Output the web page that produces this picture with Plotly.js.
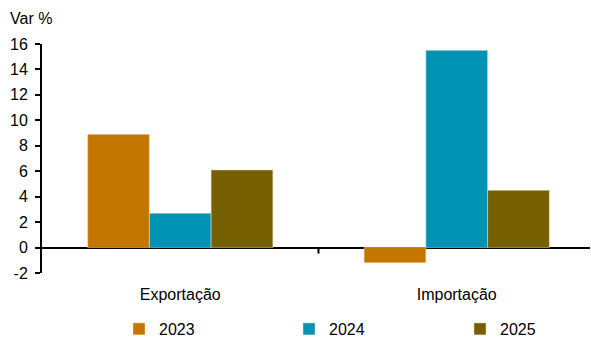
<!DOCTYPE html>
<html>
<head>
<meta charset="utf-8">
<script src="https://cdn.plot.ly/plotly-3.0.1.min.js"></script>
<style>html,body{margin:0;padding:0;background:#fff;}#chart{width:591px;height:340px;}</style>
</head>
<body>
<div id="chart"></div>
<script>
const categories = ["Exportação", "Importação"];
const series2023 = [8.9, -1.2];
const series2024 = [2.7, 15.5];
const series2025 = [6.1, 4.5];
const seriesNames = ["2023", "2024", "2025"];
const yTicks = [-2, 0, 2, 4, 6, 8, 10, 12, 14, 16];

const colors = ["#C47700", "#0093B5", "#755F00"];
const values = [series2023, series2024, series2025];
const legendIds = ["legend", "legend2", "legend3"];
const legendX = [119, 289, 460];

const traces = values.map((v, i) => ({
  type: "bar",
  name: seriesNames[i],
  x: categories,
  y: v,
  legend: legendIds[i],
  marker: {color: colors[i], line: {color: "rgba(255,230,200,0.8)", width: 0.6}},
  hoverinfo: "none"
}));

const layout = {
  width: 591, height: 340,
  margin: {l: 42, r: 1, t: 44, b: 67},
  paper_bgcolor: "#fff", plot_bgcolor: "#fff",
  font: {family: "Liberation Sans, Arial, sans-serif", size: 16, color: "#000"},
  barmode: "group",
  bargap: 0.33,
  bargroupgap: 0,
  showlegend: true,
  xaxis: {
    range: [-0.5, 1.482],
    showline: false, showgrid: false, zeroline: false,
    ticks: "", tickfont: {size: 16}, ticklabelstandoff: 10
  },
  yaxis: {
    range: [-2, 16],
    tickvals: yTicks, ticktext: yTicks.map(String),
    showline: true, linecolor: "#000", linewidth: 2,
    ticks: "outside", ticklen: 5, tickwidth: 2, tickcolor: "#000",
    showgrid: false, zeroline: true, zerolinecolor: "#000", zerolinewidth: 2,
    tickfont: {size: 16}, ticklabelstandoff: 4
  },
  shapes: [
    {type: "line", xref: "x", yref: "y", x0: 0.5, x1: 0.5, ysizemode: "pixel", yanchor: 0, y0: 0, y1: -6,
     line: {color: "#000", width: 2}}
  ],
  annotations: [
    {text: "Var %", xref: "paper", yref: "paper", x: -0.062, y: 1.0, yshift: 26, xanchor: "left", yanchor: "middle",
     showarrow: false, font: {size: 16}}
  ]
};
legendIds.forEach((id, i) => {
  layout[id] = {
    orientation: "h", xref: "container", yref: "container",
    x: legendX[i] / 591, xanchor: "left", y: 1 - 329 / 340, yanchor: "middle",
    itemwidth: 30, font: {size: 16}, bgcolor: "rgba(0,0,0,0)"
  };
});

Plotly.newPlot("chart", traces, layout, {staticPlot: true, displayModeBar: false});
</script>
</body>
</html>
